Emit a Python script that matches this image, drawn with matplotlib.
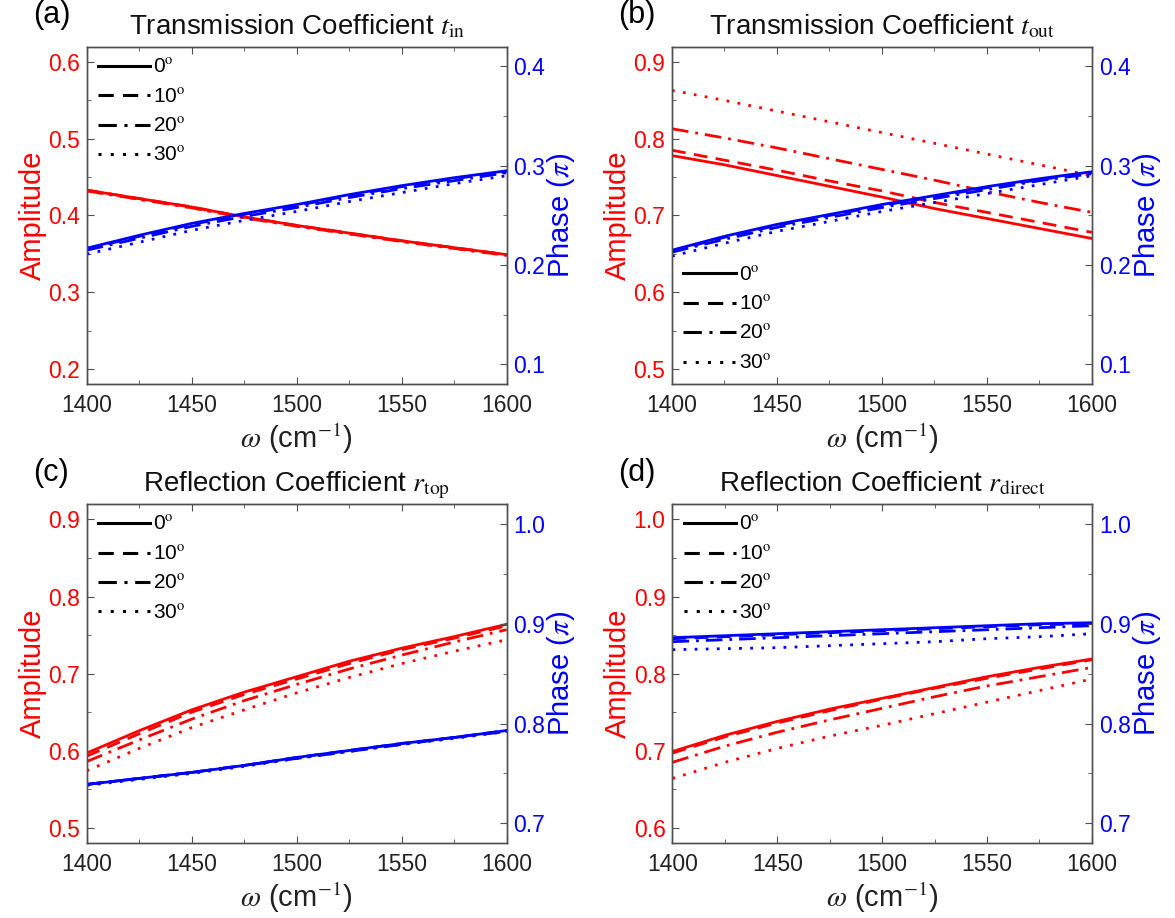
"""Amplitude and phase of the coupling coefficients versus frequency."""

import matplotlib

matplotlib.use("Agg")
import matplotlib.pyplot as plt
from matplotlib.lines import Line2D
from matplotlib.ticker import MultipleLocator

plt.rcParams["font.family"] = ["Liberation Sans", "DejaVu Sans"]
plt.rcParams["mathtext.fontset"] = "stix"

# frequency grid (cm^-1)
omega = [1400, 1425, 1450, 1475, 1500, 1525, 1550, 1575, 1600]
angles = ["0", "10", "20", "30"]

# (a) t_in
tin_amp = [
    [0.433, 0.422, 0.411, 0.398, 0.387, 0.377, 0.367, 0.358, 0.349],
    [0.433, 0.422, 0.411, 0.398, 0.387, 0.377, 0.367, 0.358, 0.349],
    [0.432, 0.421, 0.410, 0.397, 0.386, 0.376, 0.366, 0.357, 0.348],
    [0.432, 0.421, 0.410, 0.397, 0.386, 0.376, 0.366, 0.357, 0.348],
]
tin_phase = [
    [0.217, 0.230, 0.242, 0.252, 0.261, 0.271, 0.280, 0.288, 0.295],
    [0.216, 0.229, 0.241, 0.251, 0.260, 0.270, 0.279, 0.287, 0.294],
    [0.215, 0.227, 0.239, 0.249, 0.258, 0.268, 0.277, 0.285, 0.293],
    [0.211, 0.223, 0.235, 0.245, 0.254, 0.264, 0.273, 0.282, 0.290],
]

# (b) t_out
tout_amp = [
    [0.778, 0.766, 0.752, 0.738, 0.724, 0.709, 0.696, 0.683, 0.670],
    [0.785, 0.772, 0.759, 0.745, 0.732, 0.717, 0.704, 0.691, 0.678],
    [0.813, 0.801, 0.788, 0.774, 0.760, 0.746, 0.731, 0.717, 0.704],
    [0.863, 0.850, 0.836, 0.822, 0.808, 0.794, 0.780, 0.766, 0.752],
]
tout_phase = [
    [0.215, 0.229, 0.241, 0.251, 0.261, 0.270, 0.279, 0.287, 0.294],
    [0.214, 0.228, 0.240, 0.250, 0.260, 0.269, 0.278, 0.286, 0.293],
    [0.213, 0.226, 0.238, 0.248, 0.258, 0.267, 0.276, 0.285, 0.292],
    [0.209, 0.222, 0.234, 0.244, 0.254, 0.263, 0.272, 0.281, 0.290],
]

# (c) r_top
rtop_amp = [
    [0.597, 0.626, 0.653, 0.676, 0.696, 0.716, 0.733, 0.748, 0.764],
    [0.593, 0.622, 0.650, 0.673, 0.693, 0.713, 0.731, 0.746, 0.762],
    [0.586, 0.614, 0.641, 0.665, 0.686, 0.706, 0.724, 0.741, 0.757],
    [0.574, 0.603, 0.630, 0.653, 0.675, 0.695, 0.713, 0.729, 0.744],
]
rtop_phase = [
    [0.739, 0.745, 0.751, 0.758, 0.766, 0.773, 0.780, 0.786, 0.793],
    [0.739, 0.745, 0.751, 0.758, 0.766, 0.773, 0.780, 0.786, 0.793],
    [0.739, 0.745, 0.751, 0.758, 0.765, 0.772, 0.779, 0.786, 0.792],
    [0.738, 0.744, 0.750, 0.757, 0.765, 0.772, 0.779, 0.785, 0.792],
]

# (d) r_direct
rdir_amp = [
    [0.699, 0.720, 0.738, 0.754, 0.768, 0.782, 0.796, 0.808, 0.819],
    [0.697, 0.718, 0.736, 0.752, 0.767, 0.781, 0.794, 0.806, 0.818],
    [0.685, 0.706, 0.724, 0.740, 0.755, 0.770, 0.784, 0.796, 0.808],
    [0.664, 0.685, 0.703, 0.719, 0.733, 0.748, 0.763, 0.778, 0.793],
]
rdir_phase = [
    [0.886, 0.888, 0.890, 0.892, 0.894, 0.896, 0.898, 0.900, 0.901],
    [0.885, 0.887, 0.889, 0.891, 0.893, 0.895, 0.897, 0.899, 0.900],
    [0.882, 0.884, 0.886, 0.888, 0.890, 0.892, 0.894, 0.896, 0.898],
    [0.874, 0.875, 0.876, 0.878, 0.880, 0.882, 0.885, 0.887, 0.890],
]

RED = "#ff0000"
BLUE = "#0000ff"
SPINE = "#505050"
STYLES = ["-", (0, (5, 3)), (0, (6, 2.5, 1, 2.5)), (0, (1, 3))]


def draw_panel(fig, rect, letter, title, amp, phase, amp_lim, phase_lim, legend_loc):
    ax = fig.add_axes(rect)
    ax2 = ax.twinx()
    for k in range(len(angles)):
        ax.plot(omega, amp[k], color=RED, lw=2.0, ls=STYLES[k])
        ax2.plot(omega, phase[k], color=BLUE, lw=2.0, ls=STYLES[k])

    ax.set_xlim(1400, 1600)
    ax.set_ylim(*amp_lim)
    ax2.set_ylim(*phase_lim)
    ax.xaxis.set_major_locator(MultipleLocator(50))
    ax.xaxis.set_minor_locator(MultipleLocator(25))
    for a in (ax, ax2):
        a.yaxis.set_major_locator(MultipleLocator(0.1))
        a.yaxis.set_minor_locator(MultipleLocator(0.05))
        for s in a.spines.values():
            s.set_color(SPINE)
            s.set_linewidth(1.0)

    ax.tick_params(axis="both", which="both", direction="in", color=SPINE,
                   top=True, right=False, labelsize=16.5)
    ax.tick_params(which="major", length=5)
    ax.tick_params(which="minor", length=3)
    ax.tick_params(axis="y", labelcolor=RED, pad=5)
    ax.tick_params(axis="x", labelcolor="#222222", pad=7)
    ax2.tick_params(axis="y", which="both", direction="in", color=SPINE,
                    labelcolor=BLUE, labelsize=16.5, pad=5)
    ax2.tick_params(which="major", length=5)
    ax2.tick_params(which="minor", length=3)

    ax.set_xlabel(r"$\omega$ (cm$^{\mathrm{-1}}$)", fontsize=21, color="#222222", labelpad=3)
    ax.set_ylabel("Amplitude", fontsize=21, color=RED, labelpad=1)
    ax2.set_ylabel(r"Phase ($\pi$)", fontsize=21, color=BLUE, labelpad=0)
    ax.set_title(title, fontsize=20, pad=9, color="#111111")

    x0 = rect[0]
    top = rect[1] + rect[3]
    fig.text(x0 - 0.030, top + 0.034, letter, fontsize=22, ha="center", va="center")

    handles = [Line2D([], [], color="black", lw=2.2, ls=STYLES[k]) for k in range(len(angles))]
    labels = [a + r"$^{\mathrm{o}}$" for a in angles]
    ax2.legend(handles, labels, loc=legend_loc, frameon=False, fontsize=15,
               handlelength=2.5, handletextpad=0.15, labelspacing=0.5,
               borderaxespad=0.15)
    return ax, ax2


fig = plt.figure(figsize=(11.75, 9.18), dpi=100)

draw_panel(fig, [0.0738, 0.5814, 0.3574, 0.3678], "(a)",
           r"Transmission Coefficient $t_{\mathrm{in}}$",
           tin_amp, tin_phase, (0.18, 0.62), (0.08, 0.42), "upper left")
draw_panel(fig, [0.5719, 0.5814, 0.3574, 0.3678], "(b)",
           r"Transmission Coefficient $t_{\mathrm{out}}$",
           tout_amp, tout_phase, (0.48, 0.92), (0.08, 0.42), "lower left")
draw_panel(fig, [0.0738, 0.0814, 0.3574, 0.3696], "(c)",
           r"Reflection Coefficient $r_{\mathrm{top}}$",
           rtop_amp, rtop_phase, (0.48, 0.92), (0.68, 1.02), "upper left")
draw_panel(fig, [0.5723, 0.0814, 0.3569, 0.3696], "(d)",
           r"Reflection Coefficient $r_{\mathrm{direct}}$",
           rdir_amp, rdir_phase, (0.58, 1.02), (0.68, 1.02), "upper left")

fig.savefig("out.png", dpi=100)
plt.close(fig)
